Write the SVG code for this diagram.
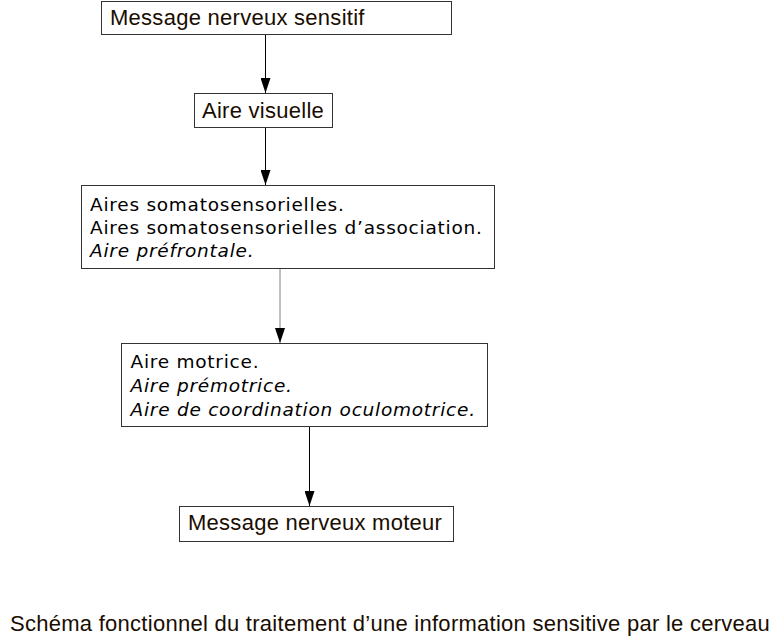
<svg xmlns="http://www.w3.org/2000/svg" width="780" height="641" viewBox="0 0 780 641">
<defs>
<style>
.box{fill:#ffffff;stroke:#333333;stroke-width:1}
.ls{font-family:"Liberation Sans",Arial,sans-serif;font-size:22px;letter-spacing:0.27px;fill:#1a0d00}
.dv{font-family:"DejaVu Sans",Verdana,sans-serif;font-size:18.5px;letter-spacing:0.75px;fill:#000000}
.it{font-style:italic}
.conn{stroke:#000000;stroke-width:1;fill:none}
.grey{stroke:#808080}
</style>
<marker id="ah" viewBox="0 0 15 10" refX="15" refY="5" markerWidth="15" markerHeight="10" markerUnits="userSpaceOnUse" orient="auto">
<path d="M0,0 L15,5 L0,10 Z" fill="#000000"/>
</marker>
</defs>
<rect width="780" height="641" fill="#ffffff"/>
<g id="connectors">
<line class="conn" x1="265.5" y1="34.5" x2="265.5" y2="93" marker-end="url(#ah)"/>
<line class="conn" x1="265.5" y1="127.5" x2="265.5" y2="185" marker-end="url(#ah)"/>
<line class="conn grey" x1="280" y1="268.5" x2="280" y2="343" marker-end="url(#ah)"/>
<line class="conn" x1="309.5" y1="426.5" x2="309.5" y2="506" marker-end="url(#ah)"/>
</g>
<g id="node-sensitif">
<rect class="box" x="101.5" y="1.5" width="350" height="33"/>
<text class="ls" x="110" y="25">Message nerveux sensitif</text>
</g>
<g id="node-visuelle">
<rect class="box" x="194.5" y="93.5" width="138" height="34"/>
<text class="ls" x="202" y="118">Aire visuelle</text>
</g>
<g id="node-somato">
<rect class="box" x="81.5" y="185.5" width="413" height="83"/>
<text class="dv" x="90" y="210.5">Aires somatosensorielles.</text>
<text class="dv" x="90" y="234">Aires somatosensorielles d’association.</text>
<text class="dv it" x="90" y="257">Aire préfrontale.</text>
</g>
<g id="node-motrice">
<rect class="box" x="121.5" y="343.5" width="366" height="83"/>
<text class="dv" x="130.5" y="368">Aire motrice.</text>
<text class="dv it" x="130.5" y="392">Aire prémotrice.</text>
<text class="dv it" x="130.5" y="416">Aire de coordination oculomotrice.</text>
</g>
<g id="node-moteur">
<rect class="box" x="179.5" y="506.5" width="274" height="35"/>
<text class="ls" x="188" y="530">Message nerveux moteur</text>
</g>
<text class="ls" x="10" y="631">Schéma fonctionnel du traitement d’une information sensitive par le cerveau</text>
</svg>
